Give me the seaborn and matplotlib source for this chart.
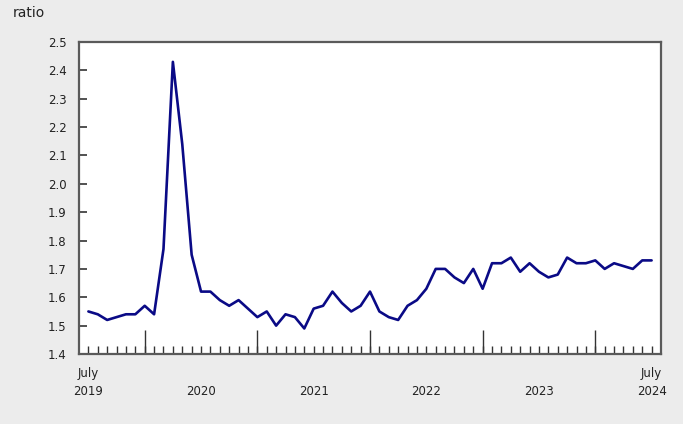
import matplotlib
matplotlib.use("Agg")
import matplotlib.pyplot as plt
import seaborn as sns
import pandas as pd
import numpy as np

months = pd.date_range("2019-07-01", "2024-07-01", freq="MS")
ratio = [1.55, 1.54, 1.52, 1.53, 1.54, 1.54,
         1.57, 1.54, 1.77, 2.43, 2.14, 1.75, 1.62, 1.62, 1.59, 1.57, 1.59, 1.56,
         1.53, 1.55, 1.50, 1.54, 1.53, 1.49, 1.56, 1.57, 1.62, 1.58, 1.55, 1.57,
         1.62, 1.55, 1.53, 1.52, 1.57, 1.59, 1.63, 1.70, 1.70, 1.67, 1.65, 1.70,
         1.63, 1.72, 1.72, 1.74, 1.69, 1.72, 1.69, 1.67, 1.68, 1.74, 1.72, 1.72,
         1.73, 1.70, 1.72, 1.71, 1.70, 1.73, 1.73]
y_ticks = [1.4, 1.5, 1.6, 1.7, 1.8, 1.9, 2.0, 2.1, 2.2, 2.3, 2.4, 2.5]
y_label = "ratio"

df = pd.DataFrame({"idx": np.arange(len(months)), "ratio": ratio})

sns.set_style("white")
plt.rcParams["font.family"] = ["DejaVu Sans"]

bg = "#ececec"
fig = plt.figure(figsize=(6.83, 4.24), dpi=100, facecolor=bg)
ax = fig.add_axes([79/683, 1-354/424, (661-79)/683, (354-42)/424])
ax.set_facecolor("white")

sns.lineplot(data=df, x="idx", y="ratio", ax=ax, color="#0a0a86", linewidth=1.9)

ax.set_xlim(-1, len(months))
ax.set_ylim(y_ticks[0], y_ticks[-1])
ax.set_yticks(y_ticks)
ax.set_yticklabels([f"{v:.1f}" for v in y_ticks])

# month ticks (major, labelled at July), January ticks (minor, long)
idx = list(range(len(months)))
labels = []
for i, m in enumerate(months):
    if m.month == 7:
        if i == 0 or i == len(months) - 1:
            labels.append(f"July\n{m.year}")
        else:
            labels.append(f"\n{m.year}")
    else:
        labels.append("")
ax.set_xticks(idx)
ax.set_xticklabels(labels)
jan = [i for i, m in enumerate(months) if m.month == 1]
ax.set_xticks(jan, minor=True)
ax.xaxis.remove_overlapping_locs = False

edge = "#5a5a5a"
for s in ax.spines.values():
    s.set_color(edge)
    s.set_linewidth(1.6)
    s.set_visible(True)

ax.tick_params(axis="x", which="major", bottom=True, direction="in", length=6,
               width=1, color="#333333", pad=9, labelsize=8.5,
               labelcolor="#222222")
ax.tick_params(axis="x", which="minor", bottom=True, direction="in", length=17,
               width=1, color="#333333")
ax.tick_params(axis="y", which="major", left=True, direction="in", length=5.5,
               width=1.2, color="#333333", pad=9, labelsize=8.5,
               labelcolor="#222222")
for t in ax.get_xticklabels():
    t.set_linespacing(1.55)

ax.set_xlabel("")
ax.set_ylabel("")
fig.text(13/683, 1-13/424, y_label, fontsize=10, color="#222222",
         ha="left", va="center")

fig.savefig("out.png", dpi=100, facecolor=bg)
